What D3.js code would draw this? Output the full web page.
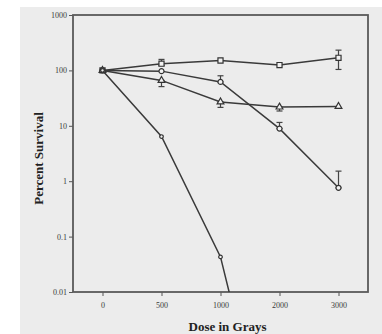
<!DOCTYPE html>
<html>
<head>
<meta charset="utf-8">
<script src="https://cdn.jsdelivr.net/npm/d3@7"></script>
<style>
  body { margin: 0; background: #fff; }
  svg { display: block; }
  .tick text { font-family: "Liberation Serif", serif; font-size: 8px; }
</style>
</head>
<body>
<div id="chart"></div>
<script>
// doses (evenly spaced categories on the x axis)
const doses = [0, 500, 1000, 2000, 3000];
const yTicks = [0.01, 0.1, 1, 10, 100, 1000];

// percent survival per series
const squareVals = [100, 132, 151, 125, 169];
const circleVals = [100, 97, 62, 8.9, 0.76];
const triangleVals = [100, 66, 27, 21.8, 22.4];
const steepVals = [100, 6.4, 0.043, 0.000002, null];

// error bars [low, high], null where none shown
const squareErr = [null, [122, 158], null, null, [104, 232]];
const circleErr = [null, null, [62, 80], [8.9, 11.5], [0.76, 1.52]];
const triangleErr = [null, [51, 66], [21.5, 27], [18.5, 21.8], null];

const W = 382, H = 334;
const margin = {top: 15, right: 14, bottom: 42, left: 73};
const width = W - margin.left - margin.right;
const height = H - margin.top - margin.bottom;

const svg = d3.select("#chart").append("svg")
  .attr("width", W).attr("height", H);

// photo-like grey backdrop
svg.append("rect").attr("x", 20).attr("y", 7).attr("width", W - 20).attr("height", H - 7)
  .attr("fill", "#ececec");

const g = svg.append("g").attr("transform", "translate(" + margin.left + "," + margin.top + ")");

const x = d3.scalePoint().domain(doses).range([0, width]).padding(0.5);
const y = d3.scaleLog().domain([0.01, 1000]).range([height, 0]);

g.append("defs").append("clipPath").attr("id", "clip")
  .append("rect").attr("width", width).attr("height", height);

// axes
g.append("g")
  .attr("transform", "translate(0," + height + ")")
  .call(d3.axisBottom(x).tickSize(4).tickPadding(6).tickFormat(d => d))
  .call(a => a.select(".domain").remove())
  .call(a => a.selectAll("line").attr("stroke", "#555"))
  .call(a => a.selectAll("text").attr("fill", "#3a3a3a"));

g.append("g")
  .call(d3.axisLeft(y).tickValues(yTicks).tickSize(4).tickPadding(2).tickFormat(d => d))
  .call(a => a.select(".domain").remove())
  .call(a => a.selectAll("line").attr("stroke", "#555"))
  .call(a => a.selectAll("text").attr("fill", "#3a3a3a"));

// frame
g.append("rect").attr("width", width).attr("height", height)
  .attr("fill", "none").attr("stroke", "#5a5a5a").attr("stroke-width", 1.8);

const plot = g.append("g").attr("clip-path", "url(#clip)");

const line = d3.line()
  .defined(d => d.v != null)
  .x(d => x(d.dose)).y(d => y(d.v));

const series = [
  {vals: squareVals, err: squareErr, shape: "square"},
  {vals: circleVals, err: circleErr, shape: "circle"},
  {vals: triangleVals, err: triangleErr, shape: "triangle"},
  {vals: steepVals, err: null, shape: "small"}
];

series.forEach(s => {
  const pts = doses.map((d, i) => ({dose: d, v: s.vals[i], e: s.err ? s.err[i] : null}));
  plot.append("path").datum(pts)
    .attr("fill", "none").attr("stroke", "#3a3a3a").attr("stroke-width", 1.5)
    .attr("d", line);

  const eb = plot.append("g").attr("stroke", "#444").attr("stroke-width", 1.2);
  pts.filter(p => p.e).forEach(p => {
    const cx = x(p.dose);
    eb.append("line").attr("x1", cx).attr("x2", cx).attr("y1", y(p.e[0])).attr("y2", y(p.e[1]));
    [p.e[0], p.e[1]].forEach(v => {
      eb.append("line").attr("x1", cx - 3).attr("x2", cx + 3).attr("y1", y(v)).attr("y2", y(v));
    });
  });

  const symType = {square: d3.symbolSquare, circle: d3.symbolCircle, triangle: d3.symbolTriangle, small: d3.symbolCircle}[s.shape];
  const size = {square: 26, circle: 20, triangle: 20, small: 10}[s.shape];
  plot.selectAll(null).data(pts.filter(p => p.v != null && p.v >= 0.01)).enter()
    .append("path")
    .attr("transform", p => "translate(" + x(p.dose) + "," + y(p.v) + ")")
    .attr("d", d3.symbol().type(symType).size(size))
    .attr("fill", "#f2f2f2").attr("stroke", "#333").attr("stroke-width", 1.2);
});

// axis titles
svg.append("text")
  .attr("x", margin.left + width / 2 + 7).attr("y", 331)
  .attr("text-anchor", "middle")
  .style("font-family", "'Liberation Serif', serif").style("font-weight", "bold")
  .style("font-size", "13px").attr("fill", "#222")
  .text("Dose in Grays");

svg.append("text")
  .attr("transform", "translate(43," + (margin.top + height / 2 + 5) + ") rotate(-90)")
  .attr("text-anchor", "middle")
  .style("font-family", "'Liberation Serif', serif").style("font-weight", "bold")
  .style("font-size", "13px").attr("fill", "#222")
  .text("Percent Survival");
</script>
</body>
</html>
